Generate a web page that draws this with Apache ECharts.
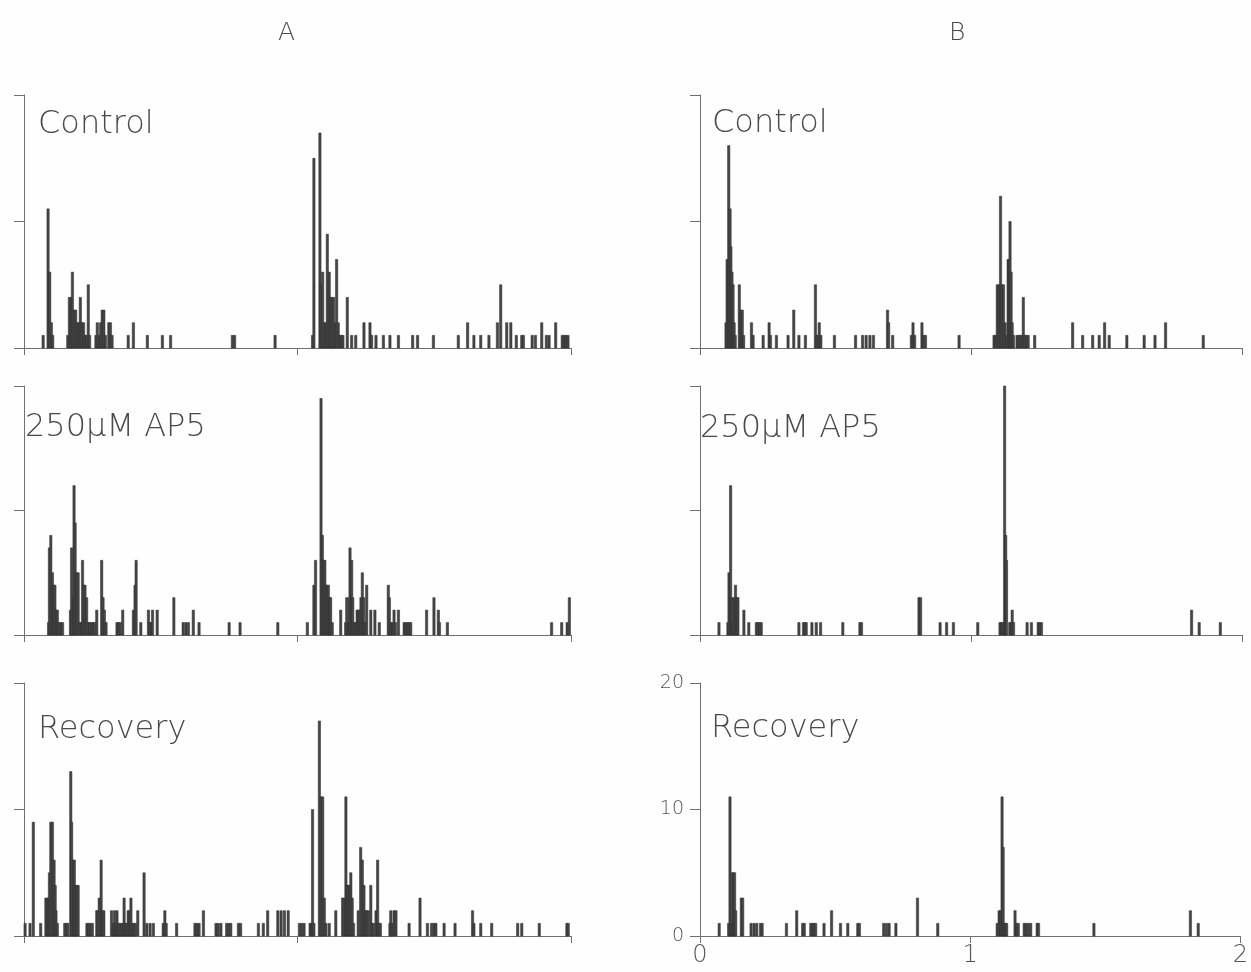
<!DOCTYPE html>
<html><head><meta charset="utf-8">
<script src="https://cdn.jsdelivr.net/npm/echarts/dist/echarts.min.js"></script>
<style>html,body{margin:0;padding:0;background:#fff}#c{width:1251px;height:972px}</style>
</head><body><div id="c"></div><script>
// ---- data: [time (s), count] ----
const columnTitles = ['A', 'B'];
const panelNames = ['Control', '250\u03bcM AP5', 'Recovery'];
const xTicks = [0, 1, 2];
const yTicks = [0, 10, 20];

const aControl = [[0.07,1],[0.088,11],[0.094,6],[0.10,2],[0.105,1],
[0.16,1],[0.166,4],[0.172,4],[0.177,6],[0.183,3],[0.189,3],[0.195,2],[0.201,2],[0.206,4],[0.212,2],[0.218,2],[0.224,1],[0.229,1],[0.235,5],[0.24,1],
[0.263,1],[0.268,2],[0.275,1],[0.28,2],[0.286,3],[0.292,3],[0.298,1],[0.31,2],[0.316,2],[0.322,1],
[0.381,1],[0.40,2],[0.451,1],[0.506,1],[0.536,1],[0.762,1],[0.77,1],[0.918,1],
[1.055,1],[1.06,15],[1.082,17],[1.086,5],[1.092,6],[1.098,2],[1.104,2],[1.109,9],[1.116,6],[1.12,4],[1.126,4],[1.132,4],[1.138,2],[1.143,7],[1.149,2],[1.155,1],[1.16,1],[1.166,1],[1.182,4],[1.198,1],[1.213,1],[1.243,2],[1.265,2],[1.271,1],[1.287,1],[1.314,1],[1.338,1],[1.369,1],[1.421,1],[1.439,1],[1.497,1],[1.588,1],[1.622,2],[1.645,1],[1.67,1],[1.70,1],[1.731,2],[1.743,5],[1.765,2],[1.78,2],[1.80,1],[1.82,1],[1.826,1],[1.858,1],[1.87,1],[1.893,2],[1.91,1],[1.92,1],[1.944,2],[1.968,1],[1.975,1],[1.982,1],[1.989,1]];

const aAp5 = [[0.09,1],[0.093,7],[0.098,8],[0.104,5],[0.108,4],[0.113,4],[0.118,2],[0.122,2],[0.128,1],[0.135,1],[0.141,1],
[0.17,2],[0.174,7],[0.18,3],[0.183,12],[0.187,9],[0.193,5],[0.198,5],[0.204,1],[0.21,1],[0.214,6],[0.219,4],[0.223,4],[0.229,3],[0.235,1],[0.24,1],[0.246,1],[0.252,1],[0.258,1],[0.266,2],
[0.284,6],[0.289,3],[0.294,2],[0.3,1],[0.34,1],[0.346,1],[0.352,1],[0.361,2],[0.40,2],[0.406,4],[0.41,6],[0.427,1],[0.455,2],[0.46,1],[0.466,1],[0.47,2],[0.487,2],[0.548,3],[0.582,1],[0.592,1],[0.601,1],[0.619,2],[0.64,1],[0.75,1],[0.79,1],[0.928,1],[1.036,1],
[1.06,4],[1.066,6],[1.086,19],[1.091,8],[1.095,6],[1.1,6],[1.104,4],[1.109,4],[1.113,4],[1.118,3],[1.121,3],[1.127,1],[1.158,2],[1.176,1],[1.18,3],[1.186,1],[1.19,3],[1.192,7],[1.198,6],[1.202,3],[1.207,1],[1.213,1],[1.218,2],[1.222,2],[1.227,2],[1.232,3],[1.237,5],[1.242,3],[1.247,1],[1.253,4],[1.268,2],[1.283,2],[1.299,1],[1.332,4],[1.336,3],[1.342,1],[1.348,1],[1.353,2],[1.358,1],[1.369,2],[1.39,1],[1.396,1],[1.402,1],[1.408,1],[1.414,1],[1.472,2],[1.499,3],[1.515,2],[1.519,1],[1.548,1],[1.929,1],[1.966,1],[1.986,1],[1.994,3]];

const aRecovery = [[0.004,1],[0.022,1],[0.034,9],[0.061,1],[0.08,3],[0.085,3],[0.089,3],[0.093,5],[0.098,9],[0.104,9],[0.11,6],[0.114,4],[0.117,2],[0.122,1],[0.149,1],[0.155,1],[0.16,1],[0.171,13],[0.174,9],[0.18,6],[0.184,6],[0.188,4],[0.193,4],[0.198,4],[0.23,1],[0.236,1],[0.242,1],[0.25,1],[0.266,2],[0.27,2],[0.275,3],[0.282,6],[0.287,2],[0.292,2],[0.32,2],[0.326,1],[0.331,2],[0.336,1],[0.34,2],[0.346,1],[0.352,1],[0.358,1],[0.366,3],[0.37,1],[0.375,1],[0.381,2],[0.386,2],[0.391,3],[0.396,1],[0.402,1],[0.407,1],[0.416,2],[0.439,5],[0.449,1],[0.461,1],[0.473,1],[0.509,1],[0.515,2],[0.52,1],[0.558,1],[0.625,1],[0.632,1],[0.64,1],[0.656,2],[0.702,1],[0.71,1],[0.72,1],[0.741,1],[0.748,1],[0.756,1],[0.784,1],[0.792,1],[0.857,1],[0.875,1],[0.891,2],[0.928,2],[0.94,2],[0.952,2],[0.966,2],[1.007,1],[1.015,1],[1.024,1],[1.046,1],[1.052,1],[1.055,10],[1.06,1],
[1.08,17],[1.086,11],[1.092,11],[1.098,3],[1.104,1],[1.116,1],[1.14,2],[1.165,3],[1.17,3],[1.177,11],[1.181,4],[1.185,4],[1.19,4],[1.195,5],[1.2,3],[1.205,1],[1.222,2],[1.231,7],[1.237,6],[1.243,4],[1.248,2],[1.253,2],[1.259,2],[1.268,4],[1.273,1],[1.278,1],[1.287,2],[1.293,6],[1.298,1],[1.303,1],[1.338,1],[1.341,2],[1.347,1],[1.353,2],[1.36,2],[1.408,1],[1.448,3],[1.475,1],[1.49,1],[1.499,1],[1.506,1],[1.536,1],[1.576,1],[1.64,2],[1.645,1],[1.67,1],[1.71,1],[1.805,1],[1.82,1],[1.884,1],[1.985,1],[1.99,1]];

const bControl = [[0.096,2],[0.10,7],[0.106,16],[0.111,11],[0.114,8],[0.118,6],[0.122,5],[0.126,2],[0.13,1],[0.145,5],[0.151,3],[0.156,3],[0.161,1],[0.19,2],[0.196,1],[0.233,1],[0.255,2],[0.26,1],[0.282,1],[0.325,1],[0.346,3],[0.365,1],[0.389,1],[0.426,5],[0.43,1],[0.436,1],[0.44,2],[0.446,1],[0.496,1],[0.574,1],[0.60,1],[0.613,1],[0.627,1],[0.64,1],[0.692,3],[0.696,2],[0.711,1],[0.78,1],[0.786,2],[0.792,1],[0.819,2],[0.825,1],[0.832,1],[0.956,1],
[1.085,1],[1.091,1],[1.097,5],[1.103,5],[1.109,12],[1.114,5],[1.12,5],[1.126,2],[1.132,1],[1.137,7],[1.141,7],[1.144,10],[1.148,6],[1.152,2],[1.157,1],[1.17,1],[1.176,1],[1.182,1],[1.188,1],[1.193,4],[1.199,1],[1.205,1],[1.211,1],[1.235,1],[1.375,2],[1.412,1],[1.449,1],[1.473,1],[1.493,2],[1.51,1],[1.575,1],[1.639,1],[1.679,1],[1.718,2],[1.857,1]];

const bAp5 = [[0.07,1],[0.103,1],[0.107,5],[0.113,12],[0.117,3],[0.121,1],[0.125,3],[0.131,4],[0.136,3],[0.14,3],[0.162,2],[0.18,1],[0.208,1],[0.214,1],[0.22,1],[0.226,1],[0.365,1],[0.382,1],[0.387,1],[0.392,1],[0.413,1],[0.429,1],[0.445,1],[0.527,1],[0.59,1],[0.596,1],[0.808,3],[0.814,3],[0.886,1],[0.91,1],[0.935,1],[1.025,1],
[1.107,1],[1.113,1],[1.118,1],[1.124,20],[1.128,8],[1.131,6],[1.143,1],[1.148,1],[1.152,2],[1.157,1],[1.207,1],[1.223,1],[1.248,1],[1.254,1],[1.26,1],[1.814,2],[1.842,1],[1.92,1]];

const bRecovery = [[0.071,1],[0.106,1],[0.111,11],[0.115,1],[0.12,5],[0.124,5],[0.128,5],[0.132,2],[0.153,3],[0.158,3],[0.189,1],[0.2,1],[0.21,1],[0.224,1],[0.23,1],[0.32,1],[0.358,2],[0.38,1],[0.386,1],[0.41,1],[0.416,1],[0.422,1],[0.428,1],[0.459,1],[0.487,2],[0.52,1],[0.547,1],[0.584,1],[0.59,1],[0.68,1],[0.69,1],[0.70,1],[0.725,1],[0.805,3],[0.88,1],
[1.1,1],[1.107,2],[1.113,2],[1.118,11],[1.122,7],[1.126,1],[1.13,1],[1.135,1],[1.166,2],[1.172,1],[1.178,1],[1.2,1],[1.207,1],[1.215,1],[1.224,1],[1.248,1],[1.253,1],[1.458,1],[1.815,2],[1.844,1]];

// ---- layout ----
const panelData = [[aControl, bControl], [aAp5, bAp5], [aRecovery, bRecovery]];
const colLeft = [24, 700], colWidth = [547, 542];
const rowTop = [95, 386, 683], rowHeight = [253, 249, 253];
const FONT = '"DejaVu Sans", "Liberation Sans", sans-serif';
const AX = '#707070';

const grid = [], xAxis = [], yAxis = [], series = [], graphic = [];
let gi = 0;
for (let r = 0; r < 3; r++) {
  for (let c = 0; c < 2; c++) {
    const showLab = (r === 2 && c === 1);
    grid.push({ left: colLeft[c], top: rowTop[r], width: colWidth[c], height: rowHeight[r], containLabel: false });
    xAxis.push({
      type: 'value', gridIndex: gi, min: xTicks[0], max: xTicks[xTicks.length - 1], interval: 1,
      axisLine: { show: true, onZero: false, lineStyle: { color: AX, width: 1 } },
      axisTick: { show: true, length: 7, lineStyle: { color: AX } },
      splitLine: { show: false },
      axisLabel: { show: showLab, showMinLabel: true, showMaxLabel: true, fontSize: 24, color: '#555', fontFamily: FONT, fontWeight: 200, margin: 8 }
    });
    yAxis.push({
      type: 'value', gridIndex: gi, min: yTicks[0], max: yTicks[yTicks.length - 1], interval: 10,
      axisLine: { show: true, lineStyle: { color: AX, width: 1 } },
      axisTick: { show: true, length: 10, lineStyle: { color: AX } },
      splitLine: { show: false },
      axisLabel: { show: showLab, fontSize: 19, color: '#555', fontFamily: FONT, fontWeight: 200, margin: 16 }
    });
    series.push({
      type: 'custom', xAxisIndex: gi, yAxisIndex: gi, data: panelData[r][c],
      encode: { x: 0, y: 1 }, clip: false,
      renderItem: function (params, api) {
        const x = api.value(0), h = api.value(1);
        const p0 = api.coord([x, 0]);
        const p1 = api.coord([x, h]);
        const w = 2.3;
        return { type: 'rect', shape: { x: p0[0] - w / 2, y: p1[1], width: w, height: p0[1] - p1[1] },
          style: { fill: '#474747', stroke: '#2a2a2a', lineWidth: 0.5 } };
      }
    });
    gi++;
  }
}

const labelPos = [[[38, 122], [712, 121]], [[25, 425], [700, 426]], [[38, 727], [711, 726]]];
for (let r = 0; r < 3; r++) for (let c = 0; c < 2; c++) {
  graphic.push({ type: 'text', left: labelPos[r][c][0], top: labelPos[r][c][1] - 13,
    style: { text: panelNames[r], font: '200 32px ' + FONT, fill: '#4a4a4a' } });
}
graphic.push({ type: 'text', left: 278, top: 21, style: { text: columnTitles[0], font: '200 25px ' + FONT, fill: '#4a4a4a' } });
graphic.push({ type: 'text', left: 949, top: 21, style: { text: columnTitles[1], font: '200 25px ' + FONT, fill: '#4a4a4a' } });

const chart = echarts.init(document.getElementById('c'), null, { renderer: 'canvas' });
chart.setOption({ backgroundColor: '#fefefe', animation: false, grid, xAxis, yAxis, series, graphic });
</script></body></html>
